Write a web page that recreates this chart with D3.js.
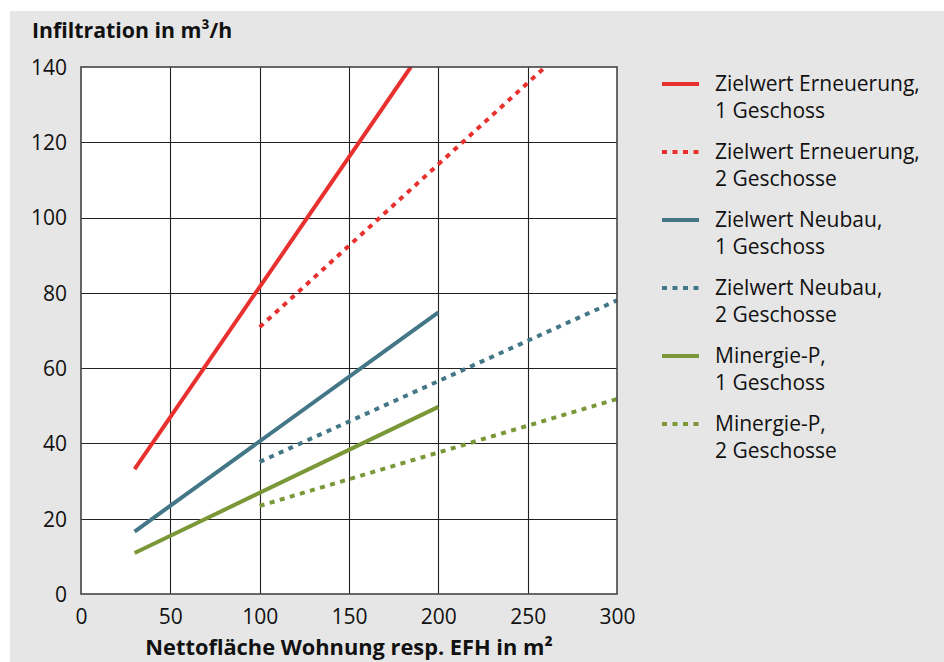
<!DOCTYPE html>
<html><head><meta charset="utf-8">
<script src="https://cdn.jsdelivr.net/npm/d3@7"></script>
<style>html,body{margin:0;padding:0;background:#fff;}svg{display:block;}</style>
</head><body>
<svg id="c" width="944" height="662"></svg>
<script>
const xTicks = [0, 50, 100, 150, 200, 250, 300];
const yTicks = [0, 20, 40, 60, 80, 100, 120, 140];
const seriesNames = [
  ["Zielwert Erneuerung,", "1 Geschoss"],
  ["Zielwert Erneuerung,", "2 Geschosse"],
  ["Zielwert Neubau,", "1 Geschoss"],
  ["Zielwert Neubau,", "2 Geschosse"],
  ["Minergie-P,", "1 Geschoss"],
  ["Minergie-P,", "2 Geschosse"]
];
const erneuerung1 = [[30, 33.2], [184.6, 140]];
const erneuerung2 = [[100, 70.9], [259.8, 140]];
const neubau1 = [[30, 16.6], [200, 74.8]];
const neubau2 = [[100, 35.1], [300, 78]];
const minergie1 = [[30, 10.9], [200, 49.7]];
const minergie2 = [[100, 23.4], [300, 51.8]];
const seriesData = [erneuerung1, erneuerung2, neubau1, neubau2, minergie1, minergie2];
const colors = ["#e8302f", "#e8302f", "#437787", "#437787", "#7a9837", "#7a9837"];
const dashed = [false, true, false, true, false, true];
const xTitle = "Nettofläche Wohnung resp. EFH in m²";
const yTitle = "Infiltration in m³/h";

const svg = d3.select("#c");
const font = "'Open Sans', 'Noto Sans', sans-serif";
svg.append("rect").attr("x", 10).attr("y", 11).attr("width", 934).attr("height", 651).attr("fill", "#e6e6e6");

const x = d3.scaleLinear().domain([0, 300]).range([81, 617]);
const y = d3.scaleLinear().domain([0, 140]).range([594, 67]);

svg.append("rect").attr("x", x(0)).attr("y", y(140)).attr("width", x(300) - x(0)).attr("height", y(0) - y(140)).attr("fill", "#fff");

// grid
const g = svg.append("g");
g.selectAll(".vg").data(xTicks.slice(1, -1)).join("line")
  .attr("x1", d => Math.round(x(d)) + 0.5).attr("x2", d => Math.round(x(d)) + 0.5)
  .attr("y1", y(140)).attr("y2", y(0)).attr("stroke", "#222").attr("stroke-width", 1.1);
g.selectAll(".hg").data(yTicks.slice(1, -1)).join("line")
  .attr("y1", d => Math.round(y(d)) + 0.5).attr("y2", d => Math.round(y(d)) + 0.5)
  .attr("x1", x(0)).attr("x2", x(300)).attr("stroke", "#222").attr("stroke-width", 1.1);

// series
const line = d3.line().x(d => x(d[0])).y(d => y(d[1]));
svg.append("clipPath").attr("id", "pc").append("rect")
  .attr("x", x(0)).attr("y", y(140)).attr("width", x(300) - x(0)).attr("height", y(0) - y(140));
svg.append("g").attr("clip-path", "url(#pc)").selectAll("path").data(seriesData).join("path")
  .attr("d", line).attr("fill", "none")
  .attr("stroke", (d, i) => colors[i]).attr("stroke-width", 4)
  .attr("stroke-dasharray", (d, i) => dashed[i] ? "5,5.5" : null);

// frame
svg.append("rect").attr("x", x(0)).attr("y", y(140)).attr("width", x(300) - x(0)).attr("height", y(0) - y(140))
  .attr("fill", "none").attr("stroke", "#444").attr("stroke-width", 1.6);

// axes
const xAxis = svg.append("g").attr("transform", `translate(0,${y(0)})`)
  .call(d3.axisBottom(x).tickValues(xTicks).tickSize(0).tickPadding(14));
const yAxis = svg.append("g").attr("transform", `translate(${x(0)},0)`)
  .call(d3.axisLeft(y).tickValues(yTicks).tickSize(0).tickPadding(14));
[xAxis, yAxis].forEach(a => {
  a.select(".domain").remove();
  a.selectAll("text").attr("font-family", font).attr("font-size", 21).attr("fill", "#111");
});
xAxis.selectAll("text").attr("dy", "0.71em").attr("y", 15);
yAxis.selectAll("text").attr("dy", "0.35em");

svg.append("text").attr("x", 32).attr("y", 38).text(yTitle)
  .attr("font-family", font).attr("font-size", 21.3).attr("font-weight", 700).attr("fill", "#111");
svg.append("text").attr("x", 349).attr("y", 655).attr("text-anchor", "middle").text(xTitle)
  .attr("font-family", font).attr("font-size", 21.8).attr("font-weight", 700).attr("fill", "#111");

// legend
const lg = svg.append("g").selectAll("g").data(seriesNames).join("g")
  .attr("transform", (d, i) => `translate(662,${84 + i * 68})`);
lg.append("line").attr("x1", 0).attr("x2", 37).attr("y1", 0).attr("y2", 0)
  .attr("stroke", (d, i) => colors[i]).attr("stroke-width", 4)
  .attr("stroke-dasharray", (d, i) => dashed[i] ? "5,5.5" : null);
lg.each(function(d) {
  const t = d3.select(this).append("text").attr("x", 53).attr("y", 7)
    .attr("font-family", font).attr("font-size", 21).attr("fill", "#111");
  d.forEach((s, j) => t.append("tspan").attr("x", 53).attr("dy", j === 0 ? 0 : 27).text(s));
});
</script>
</body></html>
